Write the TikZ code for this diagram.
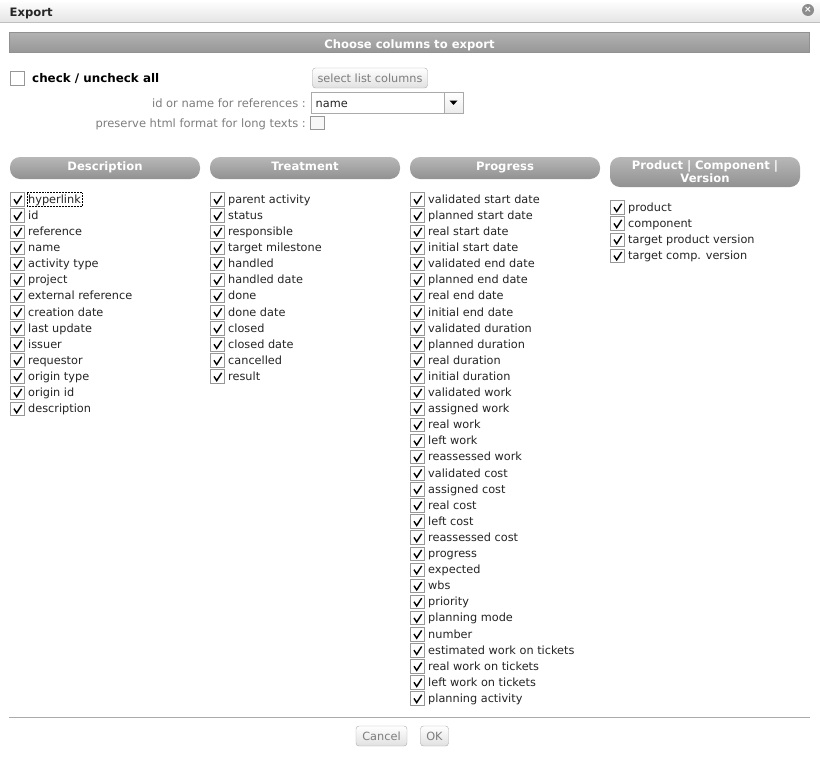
\documentclass[tikz,border=0pt]{standalone}
\usepackage{fontspec}
\setmainfont{DejaVu Sans}
\usetikzlibrary{positioning,shadings}
\definecolor{uigrey}{RGB}{145,145,145}
\definecolor{uilabel}{RGB}{125,125,125}
\definecolor{uiedge}{RGB}{170,170,170}
\definecolor{uitext}{RGB}{35,35,35}
\tikzset{
  chkbox/.style={draw=uilabel!80, line width=0.9pt, fill=white, minimum size=13.5pt, inner sep=0pt, anchor=center},
  itemtxt/.style={font=\fontsize{11.3}{12}\selectfont, text=uitext, inner sep=0pt, anchor=base west},
  grouphead/.style={rounded corners=10pt, top color=uigrey!65, bottom color=uigrey, draw=none, minimum width=190pt, minimum height=22pt,
    inner sep=0pt, text=white, align=center, text width=165pt, font=\fontsize{11.6}{13}\selectfont\bfseries},
  onehead/.style={text height=9pt, text depth=4.5pt},
  uibutton/.style={draw=uiedge, rounded corners=3pt, top color=white, bottom color=black!12, text=uilabel, inner sep=0pt,
    minimum height=20pt, font=\fontsize{11.3}{12}\selectfont},
  formlabel/.style={font=\fontsize{11.5}{12}\selectfont, text=uilabel, inner sep=0pt, anchor=base east},
}
\newcommand{\tickin}[1]{\draw[line width=1.4pt, black] ([shift={(-3.5pt,0.2pt)}]#1.center) -- ([shift={(-0.8pt,-4pt)}]#1.center) -- ([shift={(4.2pt,3.8pt)}]#1.center);}
\begin{document}
\begin{tikzpicture}[x=1pt, y=-1pt]
    \useasboundingbox (0,0) rectangle (820,758);
    % Title bar
    \shade[top color=white, bottom color=black!10] (0,0) rectangle (820,21.5);
    \draw[black!25] (0,22) -- (820,22);
    \node[font=\fontsize{11.6}{12}\selectfont\bfseries, text=black!85, inner sep=0pt, anchor=base west] (title) at (9.5,16) {Export};
    \node[circle, fill=black!45, minimum size=12pt, inner sep=0pt, text=white, font=\fontsize{9}{9}\selectfont\bfseries] (closebtn) at (808,10) {×};

    % Main heading
    \node[draw=uigrey, line width=1pt, top color=uigrey!70, bottom color=uigrey!95, minimum width=800pt, minimum height=20pt, inner sep=0pt,
      text=white, text height=11pt, text depth=0pt, font=\fontsize{11.6}{13}\selectfont\bfseries] (mainhead) at (409.5,42.5) {Choose columns to export};

    % Form part
    \node[chkbox] (allbox) at (17.5,78.5) {};
    \node[font=\fontsize{11.9}{13}\selectfont\bfseries, text=black, inner sep=0pt, anchor=base west] (alltxt) at (32,82) {check / uncheck all};
    \node[uibutton, minimum width=115pt] (selbtn) at (370,78) {select list columns};
    \node[formlabel] (reflab) at (306,107) {id or name for references :};
    \node[draw=uiedge, line width=1pt, minimum width=152pt, minimum height=21pt, inner sep=0pt, fill=white] (refbox) at (387,103) {};
    \node[itemtxt] (reftxt) at (315.5,107) {name};
    \node[draw=uiedge, line width=1pt, top color=white, bottom color=black!8, minimum width=19pt, minimum height=21pt, inner sep=0pt] (refarrow) at (453.5,103) {};
    \fill (449.5,100.5) -- (457.5,100.5) -- (453.5,105) -- cycle;
    \node[formlabel] (htmllab) at (306,127) {preserve html format for long texts :};
    \node[chkbox, fill=black!3] (htmlbox) at (317.5,123) {};

    % Column headers
    \node[grouphead, onehead] (descH) at (105,168) {Description};
    \node[grouphead, onehead] (treatH) at (305,168) {Treatment};
    \node[grouphead, onehead] (progH) at (505,168) {Progress};
    \node[grouphead, minimum height=30pt] (prodH) at (705,172) {Product | Component |\\Version};

    % Description
    \foreach \lab [count=\i from 0] in {hyperlink,id,reference,name,activity type,project,external reference,creation date,last update,issuer,requestor,origin type,origin id,description}{
      \node[chkbox] (desc\i) at (17.5,{199.5+16.1*\i}) {};
      \tickin{desc\i}
      \node[itemtxt] (descT\i) at (28,{203.3+16.1*\i}) {\lab};
    }
    \draw[black, densely dotted, line width=0.5pt] (27,192.5) rectangle (82,206);
    % Treatment
    \foreach \lab [count=\i from 0] in {parent activity,status,responsible,target milestone,handled,handled date,done,done date,closed,closed date,cancelled,result}{
      \node[chkbox] (treat\i) at (217.5,{199.5+16.1*\i}) {};
      \tickin{treat\i}
      \node[itemtxt] (treatT\i) at (228,{203.3+16.1*\i}) {\lab};
    }
    % Progress
    \foreach \lab [count=\i from 0] in {validated start date,planned start date,real start date,initial start date,validated end date,planned end date,real end date,initial end date,validated duration,planned duration,real duration,initial duration,validated work,assigned work,real work,left work,reassessed work,validated cost,assigned cost,real cost,left cost,reassessed cost,progress,expected,wbs,priority,planning mode,number,estimated work on tickets,real work on tickets,left work on tickets,planning activity}{
      \node[chkbox] (prog\i) at (417.5,{199.5+16.1*\i}) {};
      \tickin{prog\i}
      \node[itemtxt] (progT\i) at (428,{203.3+16.1*\i}) {\lab};
    }
    % Product
    \foreach \lab [count=\i from 0] in {product,component,target product version,target comp. version}{
      \node[chkbox] (prod\i) at (617.5,{207.5+16.1*\i}) {};
      \tickin{prod\i}
      \node[itemtxt] (prodT\i) at (628,{211.3+16.1*\i}) {\lab};
    }

    % Bottom part
    \draw[uiedge, line width=1pt] (9,717.5) -- (810,717.5);
    \node[uibutton, minimum width=51pt] (cancelbtn) at (381.5,736) {Cancel};
    \node[uibutton, minimum width=28pt] (okbtn) at (434.5,736) {OK};
\end{tikzpicture}
\end{document}
